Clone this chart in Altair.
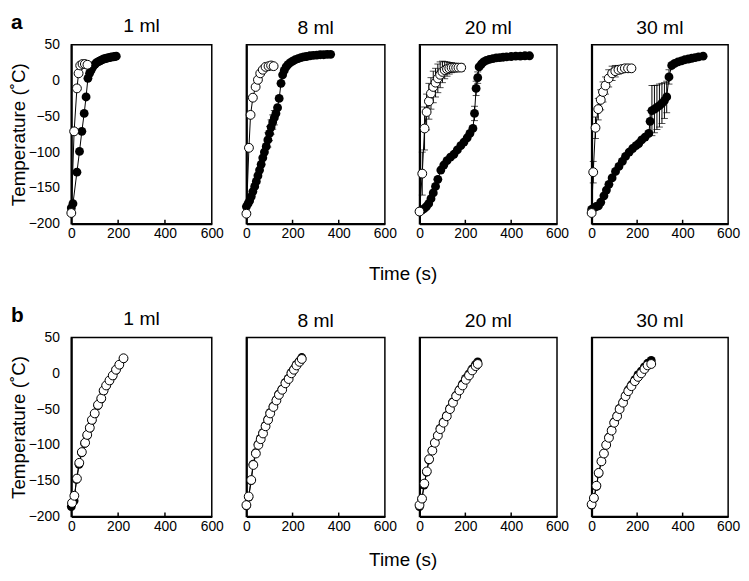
import altair as alt
import pandas as pd

FONT = "Liberation Sans"
VOLUMES = ["1 ml", "8 ml", "20 ml", "30 ml"]
X_TICKS = [0, 200, 400, 600]
Y_TICKS = [-200, -150, -100, -50, 0, 50]
INNER_TICKS = [200, 400]

# ---------------- panel a ----------------
A1_OPEN_T = [0, 12, 24, 31, 38, 48, 58, 69]
A1_OPEN_Y = [-185, -71, -11, 10, 21, 23, 23, 22]
A1_OPEN_E = [0, 0, 0, 0, 0, 0, 0, 0]
A1_FILL_T = [0, 7, 24, 35, 45, 55, 63, 71, 78, 84, 90, 96, 102, 108, 114, 120, 126, 132,
             138, 144, 150, 156, 162, 168, 174, 180, 186, 192]
A1_FILL_Y = [-178, -172, -128, -99, -71, -46, -23, 3, 10, 14, 18, 21, 23, 25, 26, 27, 28, 29,
             30, 30.5, 31, 31.5, 32, 32.5, 33, 33, 33.5, 34]
A1_FILL_E = [0] * 28

A8_OPEN_T = [0, 11, 18, 28, 40, 50, 60, 71, 83, 96, 107, 118]
A8_OPEN_Y = [-186, -94, -48, -24, -9, 1, 10, 15, 19, 20, 21, 20]
A8_OPEN_E = [0] * 12
A8_FILL_T = [0, 7, 14, 21, 28, 36, 43, 50, 57, 64, 71, 78, 86, 93, 100, 107, 114, 121, 128, 135,
             142, 150, 157, 164, 172, 180, 190, 200, 212, 224, 236, 248, 260, 275, 290, 305, 320,
             335, 350, 365]
A8_FILL_Y = [-176, -172, -168, -162, -155, -148, -141, -133, -125, -117, -108, -100, -92, -83,
             -74, -65, -58, -52, -46, -38, -25, -4, 8, 14, 19, 22, 25, 27, 29, 30.5, 32, 33, 33.5,
             34.5, 35, 35.5, 36, 36, 36.5, 36.5]
A8_FILL_E = [0] * 13 + [10, 10, 10, 10, 10] + [0] * 22

A20_OPEN_T = [0, 12, 22, 31, 41, 50, 60, 70, 80, 90, 100, 110, 120, 130, 140, 150, 160, 170, 182]
A20_OPEN_Y = [-183, -130, -67, -44, -29, -18, -9, -3, 3, 8, 12, 14.5, 16, 17, 18, 18, 18, 18, 18]
A20_OPEN_E = [0, 30, 30, 25, 25, 22, 22, 20, 20, 18, 15, 12, 10, 8, 7, 6, 5, 5, 5]
A20_FILL_T = [0, 10, 20, 30, 40, 50, 60, 70, 80, 93, 106, 120, 135, 150, 165, 180, 194, 208, 220,
              233, 240, 247, 254, 260, 270, 280, 292, 305, 320, 335, 350, 365, 380, 400, 420, 440,
              460, 480]
A20_FILL_Y = [-183, -181, -179, -176, -172, -165, -157, -148, -138, -125, -118, -112, -107, -103,
              -97, -91, -86, -80, -74, -67, -46, -11, 4, 19, 23, 26, 28, 29.5, 30.5, 31.5, 32,
              32.5, 33, 33.5, 34, 34, 34.5, 34.5]
A20_FILL_E = [0] * 20 + [10, 10, 8] + [0] * 15

A30_OPEN_T = [0, 7, 17, 29, 40, 50, 61, 75, 90, 104, 118, 132, 146, 160, 175]
A30_OPEN_Y = [-185, -128, -66, -40, -27, -16, -7, 3, 10, 13, 15, 16, 17, 17, 17]
A30_OPEN_E = [0, 15, 15, 15, 14, 14, 12, 12, 10, 8, 6, 5, 4, 4, 4]
A30_FILL_T = [0, 10, 20, 30, 40, 54, 65, 76, 90, 105, 120, 135, 149, 165, 180, 195, 207, 220, 235,
              251, 257, 265, 276, 287, 298, 309, 320, 330, 340, 352, 365, 380, 395, 410, 425, 440,
              455, 470, 490]
A30_FILL_Y = [-180, -178, -176, -175, -170, -161, -153, -145, -136, -127, -120, -113, -106, -100,
              -95, -91, -88, -83, -79, -74, -57, -42, -40, -37.5, -35, -32, -28, -23, 5, 21, 24,
              26, 27.5, 29, 30, 31, 32, 33, 34]
A30_FILL_E = [0] * 20 + [15, 35, 33, 31, 30, 28, 25, 22, 10] + [0] * 10

# ---------------- panel b ----------------
B1_OPEN_T = [3, 13, 24, 34, 45, 59, 68, 79, 88, 100, 114, 128, 138, 149, 163, 177, 191, 205, 223]
B1_OPEN_Y = [-181, -171, -147, -125, -110, -97, -86, -76, -65, -56, -44, -35, -24, -17, -10, -3,
             5, 12, 21]
B1_FILL_T = [0, 12, 22, 33, 44, 57, 67, 78, 88, 99, 113, 127, 137, 148, 162, 176, 190, 204, 222]
B1_FILL_Y = [-186, -178, -148, -127, -111, -98, -87, -77, -66, -57, -45, -36, -25, -18, -11, -4,
             4, 11, 20]

B8_OPEN_T = [0, 10, 21, 30, 41, 52, 62, 72, 83, 94, 103, 117, 130, 141, 155, 169, 183, 195, 206,
             217, 230, 240]
B8_OPEN_Y = [-184, -172, -149, -128, -112, -100, -92, -84, -74, -65, -56, -47, -38, -30, -23, -14,
             -8, 0, 5, 11, 16, 20]
B8_FILL_T = [0, 10, 20, 29, 40, 51, 61, 71, 82, 93, 102, 116, 129, 140, 154, 168, 182, 194, 205,
             216, 229, 240]
B8_FILL_Y = [-185, -173, -150, -127, -111, -99, -91, -83, -73, -64, -55, -46, -37, -29, -22, -13,
             -7, 1, 6, 12, 17, 22]

B20_OPEN_T = [0, 11, 21, 32, 42, 56, 67, 80, 91, 105, 119, 133, 146, 160, 174, 188, 202, 216, 230,
              245, 254]
B20_OPEN_Y = [-184, -175, -154, -137, -120, -108, -97, -87, -78, -69, -60, -50, -41, -32, -24, -17,
              -9, -3, 4, 10, 13]
B20_FILL_T = [0, 10, 20, 31, 41, 55, 66, 79, 90, 104, 118, 132, 145, 159, 173, 187, 201, 215, 229,
              244, 254]
B20_FILL_Y = [-186, -176, -156, -138, -121, -108, -97, -87, -77, -68, -59, -49, -40, -31, -23, -15,
              -7, -1, 6, 12, 16]

B30_OPEN_T = [0, 10, 21, 31, 43, 54, 64, 76, 88, 99, 112, 123, 138, 149, 161, 175, 190, 204, 218,
              232, 246, 262]
B30_OPEN_Y = [-183, -174, -157, -139, -123, -112, -100, -90, -80, -69, -60, -50, -41, -32, -25,
              -18, -11, -5, 0, 6, 11, 13]
B30_FILL_T = [0, 10, 21, 31, 43, 54, 64, 76, 88, 99, 112, 123, 138, 149, 161, 175, 190, 204, 218,
              232, 246, 262]
B30_FILL_Y = [-184, -175, -158, -140, -123, -112, -100, -89, -79, -68, -59, -49, -40, -31, -23,
              -16, -9, -2, 3, 9, 14, 18]


def rows(t, y, e, kind):
    return [{"t": a, "T": b, "err": c, "kind": kind} for a, b, c in zip(t, y, e)]


XS = alt.Scale(domain=[0, 600], nice=False, zero=False)
YS = alt.Scale(domain=[-200, 50], nice=False, zero=False)
WIDTHS = [142, 140, 139, 138]
H = 181


def x_enc(field, time_title, title_y):
    if time_title:
        ax = alt.Axis(values=X_TICKS, ticks=False, labelPadding=3, labelFontSize=14,
                      labelFlush=False, domainWidth=2, grid=False, titleFontSize=19,
                      titleFontWeight="normal", titleX=158, titleY=title_y,
                      titleAlign="center", titleBaseline="alphabetic")
        return alt.X(field, type="quantitative", scale=XS, axis=ax, title="Time (s)")
    ax = alt.Axis(values=X_TICKS, ticks=False, labelPadding=3, labelFontSize=14,
                  labelFlush=False, domainWidth=2, grid=False)
    return alt.X(field, type="quantitative", scale=XS, axis=ax, title=None)


def y_enc(field, first):
    if first:
        ax = alt.Axis(values=Y_TICKS, ticks=False, labelPadding=12, labelFontSize=14,
                      labelFlush=False, domainWidth=2, grid=False, titleFontSize=19,
                      titleFontWeight="normal", titlePadding=0)
        return alt.Y(field, type="quantitative", scale=YS, axis=ax, title="Temperature (\u02daC)")
    ax = alt.Axis(values=Y_TICKS, labels=False, ticks=False, domainWidth=2, grid=False)
    return alt.Y(field, type="quantitative", scale=YS, axis=ax, title=None)


def panel(name, data, width, first, time_title, title_y, letter):
    df = pd.DataFrame(data)
    base = alt.Chart(df)
    X = lambda f: x_enc(f, time_title, title_y)
    Y = lambda f: y_enc(f, first)

    lines = base.mark_line(color="black", strokeWidth=1).encode(
        x=X("t"), y=Y("T"), detail="kind:N", order="t:Q")
    errs = base.transform_filter("datum.err > 0").transform_calculate(
        lo="datum.T - datum.err", hi="datum.T + datum.err")
    rules = errs.mark_rule(color="black", strokeWidth=1).encode(
        x=X("t"), y=Y("lo"), y2=alt.Y2("hi:Q"))
    caps = errs.transform_fold(["lo", "hi"], as_=["end", "val"]).mark_tick(
        color="black", orient="horizontal", size=7, thickness=1).encode(x=X("t"), y=Y("val"))
    filled = base.transform_filter("datum.kind == 'filled'").mark_circle(
        color="black", size=80, opacity=1).encode(x=X("t"), y=Y("T"))
    opened = base.transform_filter("datum.kind == 'open'").mark_circle(
        fill="white", stroke="black", strokeWidth=1, size=80, opacity=1).encode(x=X("t"), y=Y("T"))
    ticks = alt.Chart(pd.DataFrame({"t": INNER_TICKS})).mark_rule(
        color="black", strokeWidth=1.5).encode(x=X("t"), y=alt.value(H), y2=alt.value(H - 4))
    layers = [lines, rules, caps, filled, opened, ticks]
    title_offset = -9
    if letter:
        lab = alt.Chart(pd.DataFrame({"letter": [letter]})).mark_text(
            fontSize=21, fontWeight="bold", align="left", baseline="alphabetic",
            color="black").encode(text="letter:N", x=alt.value(-61), y=alt.value(-16))
        layers.append(lab)
        title_offset = -40
    return alt.layer(*layers).properties(
        width=width, height=H,
        title=alt.TitleParams(name, fontSize=19.5, fontWeight="normal", offset=title_offset,
                              baseline="alphabetic", anchor="middle", frame="group"))


A_SETS = [
    (A1_OPEN_T, A1_OPEN_Y, A1_OPEN_E, A1_FILL_T, A1_FILL_Y, A1_FILL_E),
    (A8_OPEN_T, A8_OPEN_Y, A8_OPEN_E, A8_FILL_T, A8_FILL_Y, A8_FILL_E),
    (A20_OPEN_T, A20_OPEN_Y, A20_OPEN_E, A20_FILL_T, A20_FILL_Y, A20_FILL_E),
    (A30_OPEN_T, A30_OPEN_Y, A30_OPEN_E, A30_FILL_T, A30_FILL_Y, A30_FILL_E),
]
B_SETS = [
    (B1_OPEN_T, B1_OPEN_Y, B1_FILL_T, B1_FILL_Y),
    (B8_OPEN_T, B8_OPEN_Y, B8_FILL_T, B8_FILL_Y),
    (B20_OPEN_T, B20_OPEN_Y, B20_FILL_T, B20_FILL_Y),
    (B30_OPEN_T, B30_OPEN_Y, B30_FILL_T, B30_FILL_Y),
]

panels = []
for i, (name, s) in enumerate(zip(VOLUMES, A_SETS)):
    ot, oy, oe, ft, fy, fe = s
    data = rows(ft, fy, fe, "filled") + rows(ot, oy, oe, "open")
    panels.append(panel(name, data, WIDTHS[i], i == 0, i == 1, 56, "a" if i == 0 else ""))

for i, (name, s) in enumerate(zip(VOLUMES, B_SETS)):
    ot, oy, ft, fy = s
    data = rows(ft, fy, [0] * len(ft), "filled") + rows(ot, oy, [0] * len(ot), "open")
    panels.append(panel(name, data, WIDTHS[i], i == 0, i == 1, 50, "b" if i == 0 else ""))

chart = alt.concat(
    *panels, columns=4, spacing={"row": 115, "column": 35}, bounds="flush"
).properties(padding=0).configure(font=FONT).configure_view(
    stroke="black", strokeWidth=1.5
).configure_axis(
    domainColor="black", labelColor="black", titleColor="black", labelFont=FONT, titleFont=FONT
).configure_title(font=FONT, color="black")

chart.save("out.html", embed_options={"renderer": "svg", "actions": False})
